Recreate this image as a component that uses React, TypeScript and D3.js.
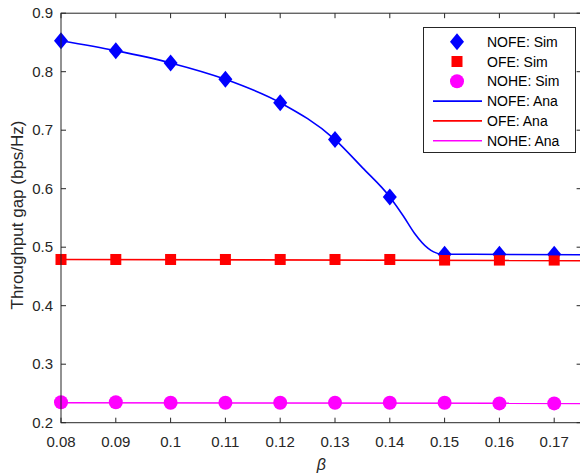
import React, { useEffect, useRef } from 'react';
import * as d3 from 'd3';

// beta values for the simulated points
const betaSim = [0.08, 0.09, 0.1, 0.11, 0.12, 0.13, 0.14, 0.15, 0.16, 0.17];
const nofeSim = [0.853, 0.836, 0.815, 0.787, 0.747, 0.684, 0.586, 0.488, 0.488, 0.488];
const ofeSim = [0.479, 0.479, 0.479, 0.479, 0.479, 0.479, 0.479, 0.478, 0.478, 0.478];
const noheSim = [0.235, 0.235, 0.234, 0.234, 0.234, 0.234, 0.234, 0.234, 0.233, 0.233];

// analytical curves
const betaNofeAna = [0.08, 0.09, 0.1, 0.11, 0.12, 0.13, 0.135, 0.14, 0.1425, 0.1445, 0.147, 0.148, 0.1495, 0.15, 0.175];
const nofeAna = [0.853, 0.836, 0.815, 0.787, 0.747, 0.684, 0.636, 0.586, 0.553, 0.524, 0.498, 0.492, 0.488, 0.488, 0.487];
const betaFlatAna = [0.08, 0.175];
const ofeAna = [0.479, 0.477];
const noheAna = [0.234, 0.233];

const xTicks = [0.08, 0.09, 0.1, 0.11, 0.12, 0.13, 0.14, 0.15, 0.16, 0.17];
const yTicks = [0.2, 0.3, 0.4, 0.5, 0.6, 0.7, 0.8, 0.9];

const legendLabels = ['NOFE: Sim', 'OFE: Sim', 'NOHE: Sim', 'NOFE: Ana', 'OFE: Ana', 'NOHE: Ana'];

const BLUE = '#0000ff';
const RED = '#ff0000';
const MAGENTA = '#ff00ff';
const AXIS = '#262626';

const App = () => {
  const ref = useRef<SVGSVGElement>(null);

  useEffect(() => {
    const svg = d3.select(ref.current);
    svg.selectAll('*').remove();

    const left = 61, right = 581.6, top = 13.2, bottom = 422.7;
    const x = d3.scaleLinear().domain([0.08, 0.175]).range([left, right]);
    const y = d3.scaleLinear().domain([0.2, 0.9]).range([bottom, top]);
    const font = 'Arial, "Liberation Sans", Helvetica, sans-serif';

    const plot = svg.append('g');

    // markers
    const diamond = (cx: number, cy: number) =>
      `M${cx},${cy - 8.5}L${cx + 7},${cy}L${cx},${cy + 8.5}L${cx - 7},${cy}Z`;

    const line = (xs: number[], ys: number[], color: string) => {
      plot.append('path')
        .datum(xs.map((b, i) => [b, ys[i]] as [number, number]))
        .attr('fill', 'none')
        .attr('stroke', color)
        .attr('stroke-width', 1.6)
        .attr('d', d3.line<[number, number]>()
          .x(d => x(d[0]))
          .y(d => y(d[1]))
          .curve(d3.curveMonotoneX));
    };

    plot.append('g').selectAll('path')
      .data(betaSim)
      .join('path')
        .attr('d', (b, i) => diamond(x(b), y(nofeSim[i])))
        .attr('fill', BLUE);

    plot.append('g').selectAll('rect')
      .data(betaSim)
      .join('rect')
        .attr('x', b => x(b) - 5.5)
        .attr('y', (b, i) => y(ofeSim[i]) - 5.5)
        .attr('width', 11)
        .attr('height', 11)
        .attr('fill', RED);

    plot.append('g').selectAll('circle')
      .data(betaSim)
      .join('circle')
        .attr('cx', b => x(b))
        .attr('cy', (b, i) => y(noheSim[i]))
        .attr('r', 7)
        .attr('fill', MAGENTA);

    line(betaNofeAna, nofeAna, BLUE);
    line(betaFlatAna, ofeAna, RED);
    line(betaFlatAna, noheAna, MAGENTA);

    // axes box with inward ticks
    const axes = svg.append('g').attr('stroke', AXIS).attr('stroke-width', 1);
    axes.append('rect')
      .attr('x', left).attr('y', top)
      .attr('width', right - left).attr('height', bottom - top)
      .attr('fill', 'none');

    xTicks.forEach(t => {
      axes.append('line').attr('x1', x(t)).attr('x2', x(t)).attr('y1', bottom).attr('y2', bottom - 5);
      axes.append('line').attr('x1', x(t)).attr('x2', x(t)).attr('y1', top).attr('y2', top + 5);
    });
    yTicks.forEach(t => {
      axes.append('line').attr('x1', left).attr('x2', left + 5).attr('y1', y(t)).attr('y2', y(t));
      axes.append('line').attr('x1', right).attr('x2', right - 5).attr('y1', y(t)).attr('y2', y(t));
    });

    svg.append('g').selectAll('text')
      .data(xTicks)
      .join('text')
        .attr('x', d => x(d))
        .attr('y', bottom + 24)
        .attr('text-anchor', 'middle')
        .attr('font-family', font)
        .attr('font-size', 15)
        .attr('fill', AXIS)
        .text(d => String(d));

    svg.append('g').selectAll('text')
      .data(yTicks)
      .join('text')
        .attr('x', left - 8)
        .attr('y', d => y(d) + 5)
        .attr('text-anchor', 'end')
        .attr('font-family', font)
        .attr('font-size', 15)
        .attr('fill', AXIS)
        .text(d => d.toFixed(1));

    svg.append('text')
      .attr('transform', 'translate(23,215) rotate(-90)')
      .attr('text-anchor', 'middle')
      .attr('font-family', font)
      .attr('font-size', 17)
      .attr('fill', AXIS)
      .text('Throughput gap (bps/Hz)');

    svg.append('text')
      .attr('x', (left + right) / 2)
      .attr('y', 470)
      .attr('text-anchor', 'middle')
      .attr('font-family', font)
      .attr('font-style', 'italic')
      .attr('font-size', 16)
      .attr('fill', AXIS)
      .text('β');

    // legend
    const lg = svg.append('g');
    lg.append('rect')
      .attr('x', 423.5).attr('y', 27.5)
      .attr('width', 152).attr('height', 125)
      .attr('fill', '#fff')
      .attr('stroke', AXIS);
    const colors = [BLUE, RED, MAGENTA, BLUE, RED, MAGENTA];
    legendLabels.forEach((lab, i) => {
      const cy = 41.7 + i * 19.8;
      const mx = 457;
      if (i === 0) lg.append('path').attr('d', diamond(mx, cy)).attr('fill', BLUE);
      else if (i === 1) lg.append('rect').attr('x', mx - 5.5).attr('y', cy - 5.5).attr('width', 11).attr('height', 11).attr('fill', RED);
      else if (i === 2) lg.append('circle').attr('cx', mx).attr('cy', cy).attr('r', 7).attr('fill', MAGENTA);
      else lg.append('line').attr('x1', 433).attr('x2', 482).attr('y1', cy).attr('y2', cy)
        .attr('stroke', colors[i]).attr('stroke-width', 1.6);
      lg.append('text')
        .attr('x', 487)
        .attr('y', cy + 5)
        .attr('font-family', font)
        .attr('font-size', 14)
        .attr('fill', '#000')
        .text(lab);
    });
  }, []);

  return (
    <svg ref={ref} width={580} height={476}
      style={{ position: 'absolute', left: 0, top: 0, background: '#fff' }} />
  );
};

export default App;
